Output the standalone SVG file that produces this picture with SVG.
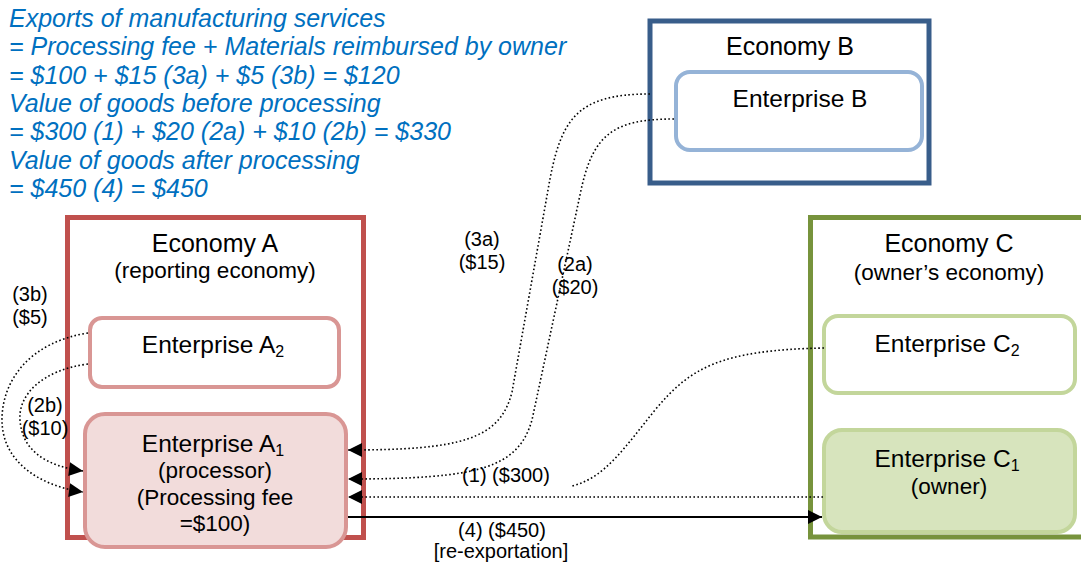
<svg xmlns="http://www.w3.org/2000/svg" width="1081" height="565" viewBox="0 0 1081 565">
<style>
  text { font-family: "Liberation Sans", Arial, sans-serif; fill: #000; }
  .blue { font-size: 25px; font-style: italic; fill: #0070C0; }
  .eco { font-size: 25px; text-anchor: middle; }
  .sub { font-size: 22.5px; text-anchor: middle; }
  .ent { font-size: 24.5px; text-anchor: middle; }
  .lbl { font-size: 20px; text-anchor: middle; }
  .dot { fill: none; stroke: #000; stroke-width: 1.6; stroke-dasharray: 1.6 2.4; }
  .solid { fill: none; stroke: #000; stroke-width: 2; }
</style>
<defs>
  <marker id="arr" viewBox="0 0 10 10" refX="10" refY="5" markerUnits="userSpaceOnUse" markerWidth="15" markerHeight="14" orient="auto">
    <path d="M0,0 L10,5 L0,10 z" fill="#000" stroke="none"/>
  </marker>
</defs>
<rect width="1081" height="565" fill="#fff"/>

<g id="formula">
  <text class="blue" x="9" y="27">Exports of manufacturing services</text>
  <text class="blue" x="9" y="55">= Processing fee + Materials reimbursed by owner</text>
  <text class="blue" x="9" y="84">= $100 + $15 (3a) + $5 (3b) = $120</text>
  <text class="blue" x="9" y="112">Value of goods before processing</text>
  <text class="blue" x="9" y="140">= $300 (1) + $20 (2a) + $10 (2b) = $330</text>
  <text class="blue" x="9" y="169">Value of goods after processing</text>
  <text class="blue" x="9" y="197">= $450 (4) = $450</text>
</g>

<g id="economyA">
  <rect x="67.5" y="217.5" width="296" height="320" fill="#fff" stroke="#C0504D" stroke-width="5"/>
  <text class="eco" x="215" y="252">Economy A</text>
  <text class="sub" x="215" y="278">(reporting economy)</text>
</g>
<g id="enterpriseA2">
  <rect x="90" y="318" width="249" height="69" rx="12" fill="#fff" stroke="#D99694" stroke-width="4"/>
  <text class="ent" x="213" y="353">Enterprise A<tspan font-size="16" dy="4">2</tspan></text>
</g>
<g id="enterpriseA1">
  <rect x="85" y="414" width="261" height="133" rx="20" fill="#F2DCDB" stroke="#D99694" stroke-width="4"/>
  <text class="ent" x="213" y="452">Enterprise A<tspan font-size="16" dy="4">1</tspan></text>
  <text class="sub" x="215" y="478">(processor)</text>
  <text class="sub" x="215" y="505">(Processing fee</text>
  <text class="sub" x="215" y="531">=$100)</text>
</g>

<g id="economyB">
  <rect x="650" y="21" width="279" height="162" fill="#fff" stroke="#385D8A" stroke-width="5"/>
  <text class="eco" x="790" y="55">Economy B</text>
</g>
<g id="enterpriseB">
  <rect x="676" y="72" width="246" height="78" rx="14" fill="#fff" stroke="#95B3D7" stroke-width="4"/>
  <text class="ent" x="800" y="107">Enterprise B</text>
</g>

<g id="economyC">
  <rect x="810.5" y="217.5" width="280" height="319.5" fill="#fff" stroke="#77933C" stroke-width="5"/>
  <text class="eco" x="949" y="252">Economy C</text>
  <text class="sub" x="949" y="280">(owner’s economy)</text>
</g>
<g id="enterpriseC2">
  <rect x="824" y="316" width="251" height="77" rx="14" fill="#fff" stroke="#C3D69B" stroke-width="4"/>
  <text class="ent" x="947" y="352">Enterprise C<tspan font-size="16" dy="4">2</tspan></text>
</g>
<g id="enterpriseC1">
  <rect x="824" y="430" width="251" height="102" rx="18" fill="#D7E4BD" stroke="#C3D69B" stroke-width="4"/>
  <text class="ent" x="947" y="467">Enterprise C<tspan font-size="16" dy="4">1</tspan></text>
  <text class="sub" x="949" y="494">(owner)</text>
</g>

<g id="connectors">
  <path class="dot" d="M650,94 C575,94 560,120 548,190 L512,392 C500,440 460,450 348,450" marker-end="url(#arr)"/>
  <path class="dot" d="M674,119 C612,119 592,135 580,195 L532,420 C518,468 480,479 348,479" marker-end="url(#arr)"/>
  <path class="dot" d="M824,348 C720,350 690,368 655,410 C625,447 605,478 572,486"/>
  <path class="dot" d="M823,497 L348,497" marker-end="url(#arr)"/>
  <path class="solid" d="M348,517 L822,517" marker-end="url(#arr)"/>
  <path class="dot" d="M88,333 C30,342 2,380 2,420 C2,462 40,486 83,492" marker-end="url(#arr)"/>
  <path class="dot" d="M88,364 C42,370 18,395 20,420 C22,450 45,466 83,471" marker-end="url(#arr)"/>
</g>

<g id="labels">
  <text class="lbl" x="482" y="246">(3a)</text>
  <text class="lbl" x="482" y="269">($15)</text>
  <text class="lbl" x="575" y="271">(2a)</text>
  <text class="lbl" x="575" y="294">($20)</text>
  <text class="lbl" x="30" y="301">(3b)</text>
  <text class="lbl" x="30" y="324">($5)</text>
  <text class="lbl" x="45" y="412">(2b)</text>
  <text class="lbl" x="45" y="435">($10)</text>
  <text class="lbl" x="506" y="482">(1) ($300)</text>
  <text class="lbl" x="502" y="537">(4) ($450)</text>
  <text class="lbl" x="501" y="558">[re-exportation]</text>
</g>
</svg>
